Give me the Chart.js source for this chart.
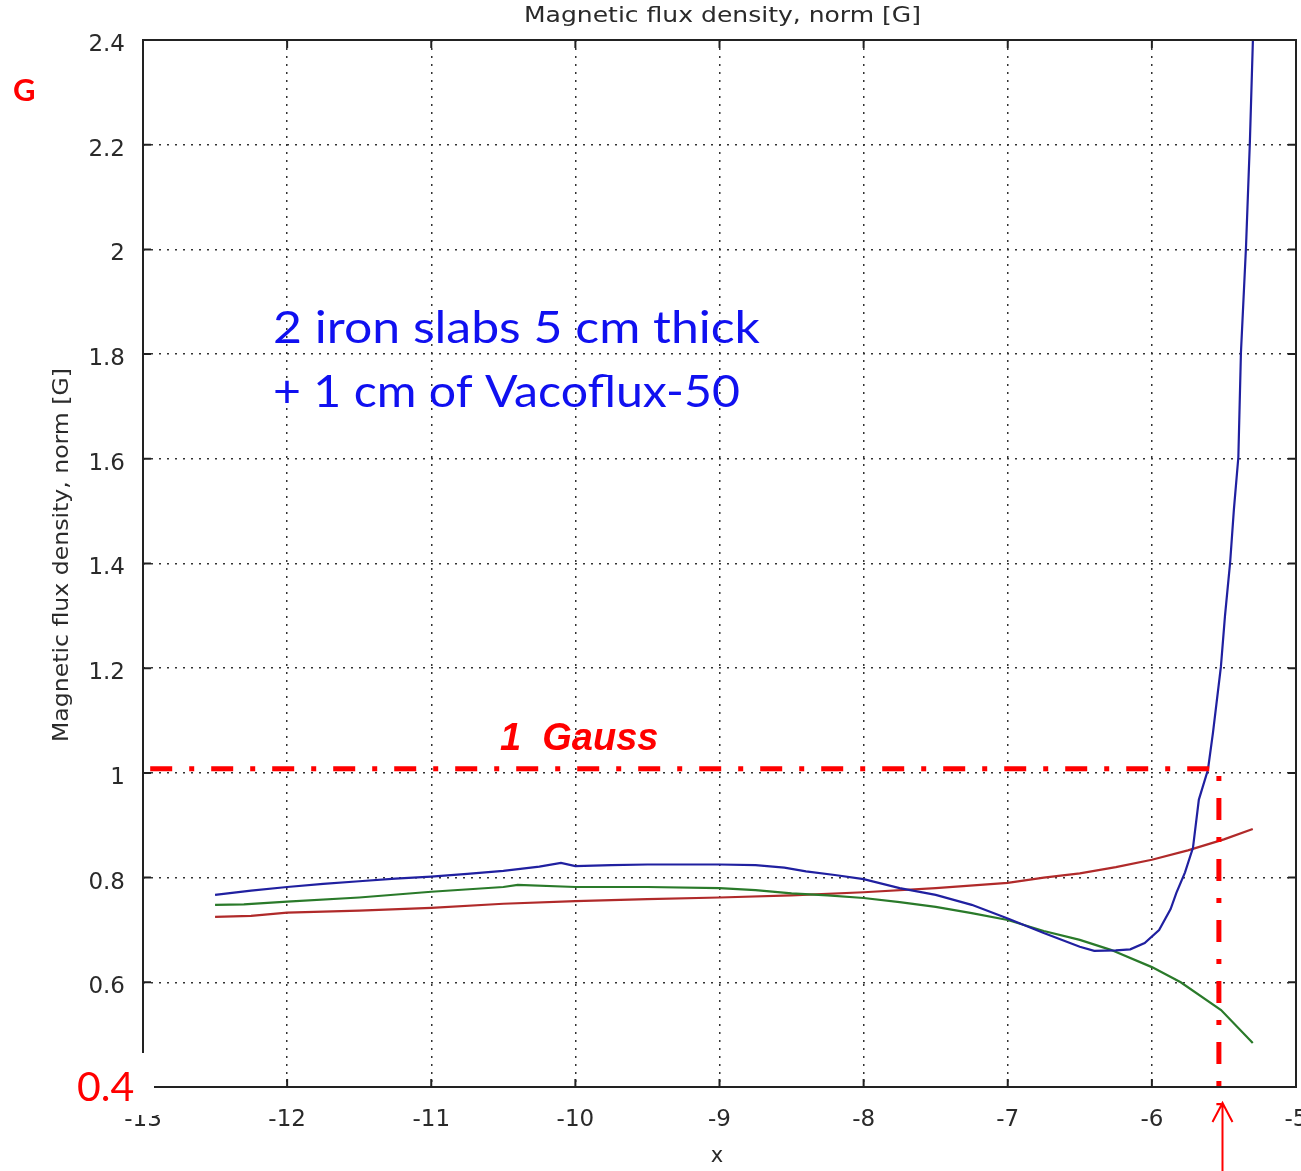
<!DOCTYPE html>
<html>
<head>
<meta charset="utf-8">
<script src="https://cdn.jsdelivr.net/npm/chart.js@4.4.0/dist/chart.umd.min.js"></script>
<style>
  html, body { margin: 0; padding: 0; background: #fff; }
</style>
</head>
<body>
<canvas id="fluxChart" width="1301" height="1171"></canvas>
<script>
// tick values / labels
const xTicks = [-13, -12, -11, -10, -9, -8, -7, -6, -5];
const yTicks = [0.4, 0.6, 0.8, 1, 1.2, 1.4, 1.6, 1.8, 2, 2.2, 2.4];
const yTickLabels = ['0.4', '0.6', '0.8', '1', '1.2', '1.4', '1.6', '1.8', '2', '2.2', '2.4'];

// blue curve (2 iron slabs + Vacoflux)
const blueX = [-12.5, -12.25, -12, -11.75, -11.5, -11.25, -11, -10.75, -10.5, -10.25, -10.1, -10, -9.75, -9.5, -9.25, -9, -8.75,
  -8.55, -8.4, -8.2, -8, -7.75, -7.5, -7.25, -7, -6.75, -6.5, -6.4, -6.25, -6.15, -6.05, -5.95, -5.87, -5.83, -5.77,
  -5.715, -5.674, -5.611, -5.576, -5.521, -5.493, -5.457, -5.431, -5.4, -5.382, -5.347, -5.32, -5.299];
const blueY = [0.767, 0.775, 0.782, 0.788, 0.793, 0.798, 0.802, 0.807, 0.813, 0.821, 0.828, 0.822, 0.824, 0.825, 0.825, 0.825, 0.824,
  0.819, 0.812, 0.805, 0.797, 0.780, 0.767, 0.748, 0.722, 0.694, 0.668, 0.660, 0.661, 0.663, 0.675, 0.700, 0.740, 0.771, 0.810,
  0.857, 0.949, 1.006, 1.077, 1.203, 1.299, 1.402, 1.503, 1.603, 1.803, 2.004, 2.205, 2.4];

// green curve
const greenX = [-12.5, -12.3, -12, -11.5, -11, -10.5, -10.4, -10, -9.5, -9, -8.75, -8.5, -8.25, -8, -7.75, -7.5, -7.25, -7,
  -6.75, -6.5, -6.285, -6, -5.8, -5.52, -5.3];
const greenY = [0.748, 0.749, 0.754, 0.762, 0.773, 0.782, 0.786, 0.782, 0.782, 0.780, 0.776, 0.770, 0.766, 0.761, 0.753, 0.744, 0.732, 0.719,
  0.698, 0.681, 0.662, 0.629, 0.600, 0.547, 0.484];

// red curve
const redX = [-12.5, -12.25, -12, -11.5, -11, -10.5, -10, -9.5, -9, -8.5, -8, -7.5, -7, -6.75, -6.5, -6.25, -6, -5.75, -5.5, -5.3];
const redY = [0.725, 0.727, 0.733, 0.737, 0.742, 0.750, 0.755, 0.759, 0.762, 0.766, 0.772, 0.780, 0.790, 0.800, 0.808, 0.820, 0.834, 0.852, 0.873, 0.893];

// 1 Gauss marker line
const gaussX = [-12.95, -5.535, -5.535];
const gaussY = [1.008, 1.008, 0.365];

const toPoints = (xs, ys) => xs.map((x, i) => ({ x: x, y: ys[i] }));

const tickFont = { family: 'DejaVu Sans', size: 23 };

// draw text stretched horizontally to a given width
function wideText(ctx, text, x, y, width) {
  const w = ctx.measureText(text).width;
  ctx.save();
  ctx.translate(x, y);
  ctx.scale(width / w, 1);
  ctx.fillText(text, 0, 0);
  ctx.restore();
}

const extras = {
  id: 'extras',
  afterDraw(chart) {
    const ctx = chart.ctx;
    const a = chart.chartArea;
    const xs = chart.scales.x;
    const ys = chart.scales.y;
    ctx.save();

    // frame + inward ticks
    ctx.strokeStyle = '#222';
    ctx.lineWidth = 2;
    ctx.strokeRect(a.left, a.top, a.right - a.left, a.bottom - a.top);
    ctx.beginPath();
    xTicks.forEach(v => {
      const px = xs.getPixelForValue(v);
      ctx.moveTo(px, a.top); ctx.lineTo(px, a.top + 8);
      ctx.moveTo(px, a.bottom); ctx.lineTo(px, a.bottom - 8);
    });
    yTicks.forEach(v => {
      const py = ys.getPixelForValue(v);
      ctx.moveTo(a.left, py); ctx.lineTo(a.left + 8, py);
      ctx.moveTo(a.right, py); ctx.lineTo(a.right - 8, py);
    });
    ctx.stroke();

    // titles
    ctx.fillStyle = '#2a2a2a';
    ctx.font = '21px "DejaVu Sans"';
    ctx.textAlign = 'left';
    ctx.textBaseline = 'middle';
    wideText(ctx, 'Magnetic flux density, norm [G]', 524, 17, 397);
    ctx.textAlign = 'center';
    ctx.fillText('x', 717, 1157);
    ctx.save();
    ctx.translate(63, 742);
    ctx.rotate(-Math.PI / 2);
    ctx.textAlign = 'left';
    wideText(ctx, 'Magnetic flux density, norm [G]', 0, 0, 374);
    ctx.restore();

    // white box over the lower-left corner
    ctx.fillStyle = '#fff';
    ctx.fillRect(0, 1053, 154, 62);
    ctx.fillRect(154, 1092, 12, 23);

    // red labels
    ctx.fillStyle = '#ff0000';
    ctx.textAlign = 'left';
    ctx.textBaseline = 'alphabetic';
    ctx.font = 'bold 31px Lato';
    ctx.fillText('G', 13, 101);
    ctx.font = '41px Lato';
    ctx.fillText('0.4', 77, 1101);
    ctx.font = 'italic bold 38px "Liberation Sans"';
    ctx.fillText('1  Gauss', 500, 750);

    // blue annotation
    ctx.fillStyle = '#1010f0';
    ctx.font = '45px Lato';
    wideText(ctx, '2 iron slabs 5 cm thick', 273, 343, 487);
    wideText(ctx, '+ 1 cm of Vacoflux-50', 273, 407, 467);

    // arrow
    const ax = xs.getPixelForValue(-5.51);
    ctx.strokeStyle = '#ff0000';
    ctx.lineWidth = 2;
    ctx.beginPath();
    ctx.moveTo(ax, 1171); ctx.lineTo(ax, 1103);
    ctx.moveTo(ax - 10, 1122); ctx.lineTo(ax, 1103); ctx.lineTo(ax + 10, 1122);
    ctx.stroke();

    ctx.restore();
  }
};

const ctx = document.getElementById('fluxChart').getContext('2d');

new Chart(ctx, {
  type: 'line',
  data: {
    datasets: [
      {
        data: toPoints(gaussX, gaussY),
        borderColor: '#ff0000',
        borderWidth: 5,
        borderDash: [22, 17, 5, 17],
        pointRadius: 0,
        clip: false
      },
      {
        data: toPoints(blueX, blueY),
        borderColor: '#2020a0',
        borderWidth: 2.2,
        pointRadius: 0
      },
      {
        data: toPoints(greenX, greenY),
        borderColor: '#2a7a2a',
        borderWidth: 2.2,
        pointRadius: 0
      },
      {
        data: toPoints(redX, redY),
        borderColor: '#b02a2a',
        borderWidth: 2.2,
        pointRadius: 0
      }
    ]
  },
  options: {
    responsive: false,
    animation: false,
    layout: { padding: { top: 40, right: 5, left: 0, bottom: 0 } },
    plugins: {
      legend: { display: false },
      tooltip: { enabled: false },
      title: { display: false }
    },
    elements: { line: { tension: 0 } },
    scales: {
      x: {
        type: 'linear',
        min: -13,
        max: -5,
        afterBuildTicks: s => { s.ticks = xTicks.map(v => ({ value: v })); },
        ticks: {
          font: tickFont,
          color: '#2a2a2a',
          padding: 19,
          maxRotation: 0,
          callback: v => String(v)
        },
        grid: { color: '#333', lineWidth: 1.5, drawTicks: false },
        border: { display: false, dash: [2, 6] },
        afterFit: s => { s.height = 84; s.paddingLeft = 0; s.paddingRight = 0; }
      },
      y: {
        type: 'linear',
        min: 0.4,
        max: 2.4,
        afterBuildTicks: s => { s.ticks = yTicks.map(v => ({ value: v })); },
        ticks: {
          font: tickFont,
          color: '#2a2a2a',
          padding: 18,
          labelOffset: 5,
          callback: v => yTickLabels[yTicks.findIndex(t => Math.abs(t - v) < 1e-6)]
        },
        grid: { color: '#333', lineWidth: 1.5, drawTicks: false },
        border: { display: false, dash: [2, 6] },
        afterFit: s => { s.width = 143; s.paddingTop = 0; s.paddingBottom = 0; }
      }
    }
  },
  plugins: [extras]
});
</script>
</body>
</html>
